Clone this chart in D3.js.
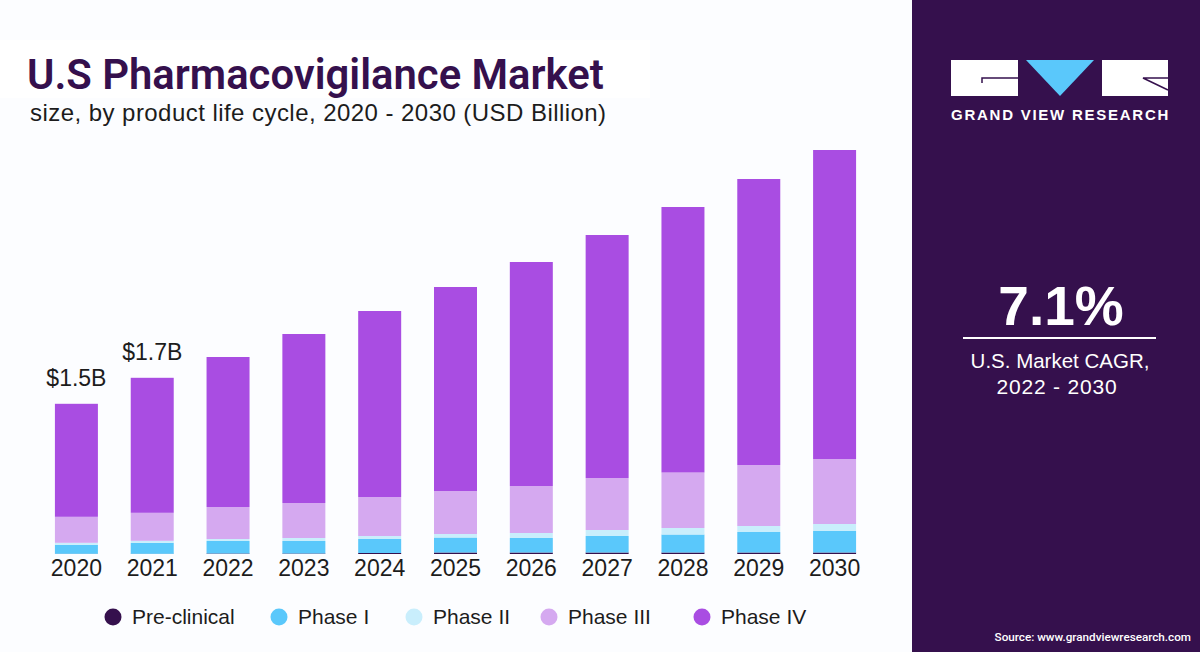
<!DOCTYPE html>
<html>
<head>
<meta charset="utf-8">
<script src="https://cdn.jsdelivr.net/npm/d3@7"></script>
<style>
  html, body { margin: 0; padding: 0; background: #fcfdff; }
  svg { display: block; }
  text { font-family: "Liberation Sans", sans-serif; }
</style>
</head>
<body>
<svg id="chart" width="1200" height="652"></svg>
<script>
// values in USD billion
var years = ["2020","2021","2022","2023","2024","2025","2026","2027","2028","2029","2030"];
var phases = ["Pre-clinical","Phase I","Phase II","Phase III","Phase IV"];
var colors = ["#35104d","#5ac8fb","#c9eefc","#d5a9f0","#a94de2"];

var preClinical = [0.002,0.002,0.005,0.005,0.01,0.015,0.015,0.015,0.015,0.015,0.015];
var phaseOne    = [0.09,0.11,0.125,0.125,0.14,0.15,0.145,0.165,0.18,0.205,0.215];
var phaseTwo    = [0.02,0.02,0.02,0.03,0.03,0.035,0.05,0.06,0.065,0.06,0.07];
var phaseThree  = [0.26,0.28,0.32,0.35,0.39,0.43,0.47,0.52,0.555,0.61,0.65];
var phaseFour   = [1.13,1.35,1.50,1.69,1.86,2.04,2.24,2.43,2.655,2.86,3.09];

var callouts = [{year:"2020", label:"$1.5B"}, {year:"2021", label:"$1.7B"}];

var rows = years.map(function(y, i) {
  return {year:y, "Pre-clinical":preClinical[i], "Phase I":phaseOne[i], "Phase II":phaseTwo[i],
          "Phase III":phaseThree[i], "Phase IV":phaseFour[i]};
});

var svg = d3.select("#chart");

// page background and title box
svg.append("rect").attr("width",1200).attr("height",652).attr("fill","#fcfdff");
svg.append("rect").attr("x",0).attr("y",40).attr("width",650).attr("height",58).attr("fill","#ffffff");

svg.append("text").attr("x",27).attr("y",89)
  .attr("font-size",41.8).attr("font-weight",600).attr("fill","#35104d")
  .style("font-family","Roboto, sans-serif")
  .text("U.S Pharmacovigilance Market");
svg.append("text").attr("x",30).attr("y",121)
  .attr("font-size",24).attr("letter-spacing",0.45).attr("fill","#1c1c1c")
  .text("size, by product life cycle, 2020 - 2030 (USD Billion)");

// scales
var x = d3.scaleBand().domain(years).range([38.5,872.5]).paddingInner(0.433).paddingOuter(0.2165);
var y = d3.scaleLinear().domain([0,4.04]).range([554,150]);

var stacked = d3.stack().keys(phases)(rows);
var color = d3.scaleOrdinal().domain(phases).range(colors);

svg.append("g").selectAll("g").data(stacked).join("g")
  .attr("fill", function(d) { return color(d.key); })
  .selectAll("rect").data(function(d) { return d; }).join("rect")
  .attr("x", function(d) { return x(d.data.year); })
  .attr("width", x.bandwidth())
  .attr("y", function(d) { return y(d[1]); })
  .attr("height", function(d) { return y(d[0]) - y(d[1]); });

// year labels
var xAxis = svg.append("g").attr("transform","translate(0,554)")
  .call(d3.axisBottom(x).tickSize(0).tickPadding(6));
xAxis.select(".domain").remove();
xAxis.selectAll("text").attr("font-size",23).attr("fill","#1c1c1c").style("font-family","'Liberation Sans', sans-serif");

// total labels
svg.append("g").selectAll("text").data(callouts).join("text")
  .attr("x", function(d) { return x(d.year) + x.bandwidth()/2; })
  .attr("y", function(d) {
    var r = rows[years.indexOf(d.year)];
    return y(d3.sum(phases, function(p) { return r[p]; })) - 18;
  })
  .attr("text-anchor","middle").attr("font-size",23).attr("fill","#1c1c1c")
  .text(function(d) { return d.label; });

// legend
var legendX = [113,279,414,549,702];
var legend = svg.append("g").selectAll("g").data(phases).join("g")
  .attr("transform", function(d,i) { return "translate(" + legendX[i] + ",617)"; });
legend.append("circle").attr("r",8.5).attr("fill", function(d) { return color(d); });
legend.append("text").attr("x",19).attr("y",7).attr("font-size",21).attr("fill","#1c1c1c")
  .text(function(d) { return d; });

// right panel
svg.append("rect").attr("x",912).attr("y",0).attr("width",288).attr("height",652).attr("fill","#35104d");

var logo = svg.append("g");
logo.append("rect").attr("x",951).attr("y",60).attr("width",67).attr("height",36).attr("fill","#ffffff");
logo.append("rect").attr("x",1102).attr("y",60).attr("width",66).attr("height",36).attr("fill","#ffffff");
logo.append("path").attr("d","M1026,60H1094L1060,96Z").attr("fill","#5ac8fb");
logo.append("path").attr("d","M982,83V78H1018").attr("fill","none").attr("stroke","#35104d").attr("stroke-width",1.5);
logo.append("path").attr("d","M1168,78H1143L1168,90").attr("fill","none").attr("stroke","#35104d").attr("stroke-width",1.5);
logo.append("text").attr("x",951).attr("y",120)
  .attr("font-size",15).attr("font-weight",700).attr("letter-spacing",1.75).attr("fill","#ffffff")
  .text("GRAND VIEW RESEARCH");

svg.append("text").attr("x",1061).attr("y",325).attr("text-anchor","middle")
  .attr("font-size",55).attr("font-weight",700).attr("fill","#ffffff").text("7.1%");
svg.append("rect").attr("x",963).attr("y",337).attr("width",193).attr("height",2).attr("fill","#ffffff");
svg.append("text").attr("x",1060).attr("y",368).attr("text-anchor","middle")
  .attr("font-size",20.5).attr("fill","#ffffff").text("U.S. Market CAGR,");
svg.append("text").attr("x",1057).attr("y",394).attr("text-anchor","middle")
  .attr("font-size",21).attr("letter-spacing",0.8).attr("fill","#ffffff").text("2022 - 2030");
svg.append("text").attr("x",1191).attr("y",641).attr("text-anchor","end")
  .attr("font-size",11.7).attr("font-weight",500).attr("fill","#ffffff")
  .style("font-family","Roboto, sans-serif")
  .text("Source: www.grandviewresearch.com");
</script>
</body>
</html>
